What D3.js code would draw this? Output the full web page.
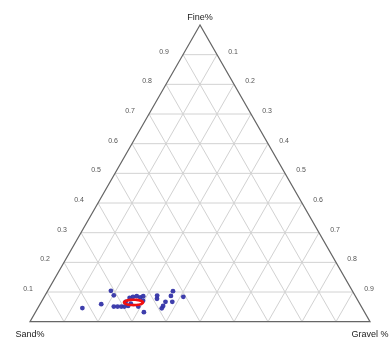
<!DOCTYPE html>
<html><head><meta charset="utf-8">
<script src="https://cdn.jsdelivr.net/npm/d3@7"></script>
<style>body{margin:0;background:#fff}svg{display:block}.lbl{filter:grayscale(1)}</style>
</head><body>
<svg id="c" width="390" height="340"></svg>
<script>
// Axis titles (corners)
const cornerLabels = ["Fine%", "Sand%", "Gravel %"];
// Tick values along the grid (fraction)
const ticks = [0.1,0.2,0.3,0.4,0.5,0.6,0.7,0.8,0.9];
// Samples: fine, sand, gravel fractions
const fine   = [0.046,0.059,0.104,0.089,0.051,0.051,0.051,0.051,0.053,0.067,0.080,0.084,0.086,0.082,0.086,0.071,0.051,0.032,0.061,0.088,0.077,0.067,0.053,0.045,0.103,0.087,0.067,0.084];
const sand   = [0.823,0.761,0.710,0.709,0.728,0.717,0.706,0.697,0.685,0.685,0.667,0.655,0.643,0.635,0.624,0.632,0.656,0.649,0.673,0.582,0.588,0.568,0.582,0.590,0.528,0.542,0.548,0.507];
const gravel = [0.131,0.180,0.186,0.202,0.221,0.232,0.243,0.252,0.262,0.248,0.253,0.261,0.271,0.283,0.290,0.297,0.293,0.319,0.266,0.330,0.335,0.365,0.365,0.365,0.369,0.371,0.385,0.409];
// Mean ellipse: centre (fine, gravel) and half-spans
const ellCenter = [0.065, 0.272];
const ellHalf = [0.009, 0.028];

const svg = d3.select("#c");
const xL = 30, xR = 370, yB = 321.7, yT = 25;
const sx = d3.scaleLinear().domain([0,1]).range([xL, xR]);
const sy = d3.scaleLinear().domain([0,1]).range([yB, yT]);
const P = (f,g) => [sx(g + f/2), sy(f)];

const gGrid = svg.append("g").attr("stroke","#d2d2d2").attr("stroke-width",1).attr("fill","none");
ticks.forEach(t => {
  let a = P(t,0), b = P(t,1-t);
  gGrid.append("line").attr("x1",a[0]).attr("y1",a[1]).attr("x2",b[0]).attr("y2",b[1]);
  a = P(0,t); b = P(1-t,t);
  gGrid.append("line").attr("x1",a[0]).attr("y1",a[1]).attr("x2",b[0]).attr("y2",b[1]);
  a = P(0,1-t); b = P(1-t,0);
  gGrid.append("line").attr("x1",a[0]).attr("y1",a[1]).attr("x2",b[0]).attr("y2",b[1]);
});

const tri = [P(1,0), P(0,0), P(0,1)];
svg.append("path").attr("d", d3.line()(tri) + "Z")
  .attr("fill","none").attr("stroke","#666").attr("stroke-width",1.2);

const tl = svg.append("g").attr("class","lbl").attr("font-family","Liberation Sans, Arial, sans-serif")
  .attr("font-size",7).attr("fill","#555").attr("text-anchor","middle");
ticks.forEach(t => {
  const l = P(t,0);
  tl.append("text").attr("x", l[0]-19).attr("y", l[1]-1).text(d3.format(".1f")(t));
  const r = P(t,1-t);
  tl.append("text").attr("x", r[0]+16).attr("y", r[1]-1).text(d3.format(".1f")(1-t));
});

const cl = svg.append("g").attr("class","lbl").attr("font-family","Liberation Sans, Arial, sans-serif")
  .attr("font-size",9).attr("fill","#222").attr("text-anchor","middle");
const cTop = P(1,0), cLft = P(0,0), cRgt = P(0,1);
cl.append("text").attr("x", cTop[0]).attr("y", cTop[1]-5).text(cornerLabels[0]);
cl.append("text").attr("x", cLft[0]).attr("y", cLft[1]+15).text(cornerLabels[1]);
cl.append("text").attr("x", cRgt[0]).attr("y", cRgt[1]+15).text(cornerLabels[2]);

svg.append("g").selectAll("circle").data(d3.range(fine.length)).join("circle")
  .attr("cx", i => P(fine[i], gravel[i])[0])
  .attr("cy", i => P(fine[i], gravel[i])[1])
  .attr("r", 2.4).attr("fill","#3434a8").attr("fill-opacity",0.95);

const ellPts = d3.range(0, 360, 10).map(a => {
  const r = a*Math.PI/180;
  return P(ellCenter[0] + ellHalf[0]*Math.sin(r), ellCenter[1] + ellHalf[1]*Math.cos(r) - ellHalf[0]*Math.sin(r)/2);
});
svg.append("path").attr("d", d3.line().curve(d3.curveCardinalClosed)(ellPts))
  .attr("fill","none").attr("stroke","#f01010").attr("stroke-width",2.6);
</script>
</body></html>
